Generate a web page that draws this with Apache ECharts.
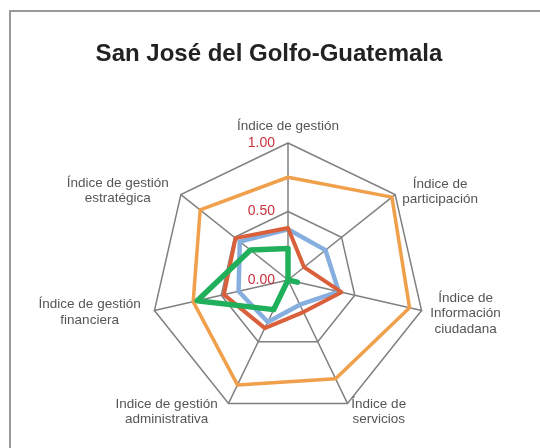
<!DOCTYPE html>
<html>
<head>
<meta charset="utf-8">
<script src="https://cdn.jsdelivr.net/npm/echarts@6/dist/echarts.min.js"></script>
<style>
  html, body { margin: 0; padding: 0; background: #fff; }
  #wrap { position: relative; width: 540px; height: 448px; overflow: hidden; }
  #frame { position: absolute; left: 9px; top: 10px; width: 600px; height: 500px;
           border-left: 2px solid #999; border-top: 2px solid #999; }
  #chart { position: absolute; left: 0; top: 0; width: 540px; height: 448px; }
</style>
</head>
<body>
<div id="wrap">
  <div id="frame"></div>
  <div id="chart"></div>
</div>
<script>
// indicadores en el orden del gráfico (sentido horario desde arriba)
const categories = [
  'Índice de gestión',
  'Índice de\nparticipación',
  'Índice de\nInformación\nciudadana',
  'Índice de\nservicios',
  'Indice de gestión\nadministrativa',
  'Índice de gestión\nfinanciera',
  'Índice de gestión\nestratégica'
]
const tickLabels = ['0.00', '0.50', '1.00']

const serieNaranja = [0.75, 0.97, 0.91, 0.80, 0.85, 0.71, 0.82]
const serieAzul    = [0.37, 0.35, 0.38, 0.20, 0.34, 0.37, 0.45]
const serieRoja    = [0.38, 0.15, 0.40, 0.26, 0.39, 0.48, 0.49]
const serieVerde   = [0.23, 0.00, 0.07, 0.00, 0.24, 0.68, 0.35]

// echarts coloca los ejes en sentido antihorario, así que se invierte el orden
const order = [0, 6, 5, 4, 3, 2, 1]
const reorder = arr => order.map(i => arr[i])

// pequeños ajustes de posición de cada nombre (padding derecho / izquierdo / arriba)
const namePad = [[0, 0, 0], [0, 0, 6], [0, 0, 2], [0, 0, 0], [7, 0, 0], [5, 0, 0], [5, 0, 4]]

const indicator = order.map((i, k) => {
  const ind = { name: categories[i], min: 0, max: 1 }
  if (k === 0) {
    ind.axisLabel = {
      show: true,
      color: '#c8323c',
      fontSize: 14,
      fontFamily: 'Liberation Sans',
      margin: 13,
      showMinLabel: true,
      showMaxLabel: true,
      formatter: v => tickLabels[Math.round(v * 2)]
    }
  }
  return ind
})

const chart = echarts.init(document.getElementById('chart'))

const serie = (data, color, width, z) => ({
  type: 'radar',
  z,
  symbol: 'none',
  silent: true,
  lineStyle: { color, width, cap: 'round', join: 'round' },
  data: [{ value: reorder(data) }]
})

chart.setOption({
  animation: false,
  title: {
    text: 'San José del Golfo-Guatemala',
    left: 264,
    top: 37,
    textAlign: 'center',
    textStyle: { fontFamily: 'Liberation Sans', fontWeight: 'bold', fontSize: 24, color: '#222' }
  },
  radar: {
    center: [288, 280],
    radius: 137,
    startAngle: 90,
    shape: 'polygon',
    splitNumber: 2,
    axisNameGap: 9,
    axisName: {
      color: '#555',
      fontFamily: 'Liberation Sans',
      fontSize: 13.5,
      lineHeight: 15.5,
      formatter: (name) => {
        const k = order.findIndex(i => categories[i] === name)
        return name.split('\n').map(l => '{p' + k + '|' + l + '}').join('\n')
      },
      rich: Object.fromEntries(namePad.map((p, i) => {
        const k = order.indexOf(i)
        return ['p' + k, { align: 'center', padding: [p[2], p[0], 0, p[1]], fontSize: 13.5, lineHeight: 15.5, color: '#555' }]
      }))
    },
    axisLabel: { show: false },
    axisLine: { lineStyle: { color: '#808080', width: 1.5 } },
    splitLine: { lineStyle: { color: '#808080', width: 1.5 } },
    splitArea: { show: false },
    indicator
  },
  series: [
    serie(serieNaranja, '#f0a04b', 3.5, 2),
    serie(serieAzul, '#86aede', 4.5, 3),
    serie(serieRoja, '#d9603b', 4, 4),
    serie(serieVerde, '#20b05c', 5.5, 5)
  ]
})
</script>
</body>
</html>
